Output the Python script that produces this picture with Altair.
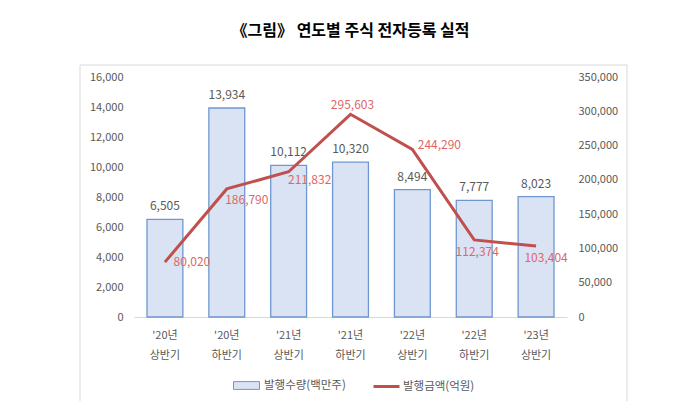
import altair as alt
import pandas as pd

categories = ["'20년 상반기", "'20년 하반기", "'21년 상반기", "'21년 하반기",
              "'22년 상반기", "'22년 하반기", "'23년 상반기"]
issue_volume = [6505, 13934, 10112, 10320, 8494, 7777, 8023]
issue_amount = [80020, 186790, 211832, 295603, 244290, 112374, 103404]
series_bar = "발행수량(백만주)"
series_line = "발행금액(억원)"
title_text = "《그림》 연도별 주식 전자등록 실적"

# label placement styles for the line's data labels (dx, dy)
line_label_offsets = [(27, 0), (20, 11), (21, 8), (2, -9), (27, -4), (3, 12), (10, 12)]

df = pd.DataFrame({
    "period": categories,
    "volume": issue_volume,
    "amount": issue_amount,
    "s1": series_bar,
    "s2": series_line,
})

FONT = "Noto Sans CJK KR"
GRAY = "#595959"

x_enc = alt.X(
    "period:N", sort=categories, title=None,
    scale=alt.Scale(paddingInner=0.42, paddingOuter=0.21),
    axis=alt.Axis(labelExpr="split(datum.label, ' ')", labelAngle=0, ticks=False,
                  domainColor="#D9D9D9", domainWidth=1, labelColor=GRAY, labelFontSize=11,
                  labelPadding=12, labelLineHeight=20, labelFont=FONT),
)

y_left = alt.Y(
    "volume:Q", title=None, scale=alt.Scale(domain=[0, 16000]),
    axis=alt.Axis(values=list(range(0, 16001, 2000)), format=",d", grid=False, domain=False,
                  ticks=False, labelColor=GRAY, labelFontSize=11, labelPadding=11, labelFont=FONT),
)
y_right = alt.Y(
    "amount:Q", title=None, scale=alt.Scale(domain=[0, 350000]),
    axis=alt.Axis(orient="right", values=list(range(0, 350001, 50000)), format=",d", grid=False,
                  domain=False, ticks=False, labelColor=GRAY, labelFontSize=11, labelPadding=11,
                  labelFont=FONT),
)

base = alt.Chart(df)

frame = alt.Chart(pd.DataFrame({"a": [0]})).mark_rect(filled=False, stroke="#D9D9D9", strokeWidth=1).encode(
    x=alt.value(-54), x2=alt.value(493), y=alt.value(-12), y2=alt.value(328)
)

bars = base.mark_bar(stroke="#6F97CF", strokeWidth=1.3).encode(
    x=x_enc, y=y_left,
    color=alt.Color("s1:N", scale=alt.Scale(range=["#DAE3F3"]),
                    legend=alt.Legend(orient="none", legendX=99, legendY=295, title=None,
                                      symbolType="M-1,-0.3H1V0.3H-1Z", symbolSize=676,
                                      symbolStrokeColor="#6F97CF", symbolStrokeWidth=1,
                                      labelFontSize=11.5, labelColor=GRAY, labelFont=FONT,
                                      labelOffset=4)),
)
bar_text = base.mark_text(baseline="bottom", dy=-6, color=GRAY, fontSize=12, font=FONT).encode(
    x=x_enc, y=y_left, text=alt.Text("volume:Q", format=",d")
)

line = base.mark_line(strokeWidth=3).encode(
    x=x_enc, y=y_right,
    stroke=alt.Stroke("s2:N", scale=alt.Scale(range=["#C0504D"]),
                      legend=alt.Legend(orient="none", legendX=238, legendY=295, title=None,
                                        symbolType="stroke", symbolSize=676, symbolStrokeWidth=3,
                                        labelFontSize=11.5, labelColor=GRAY, labelFont=FONT,
                                        labelOffset=2)),
)

line_texts = []
for cat, (dx, dy) in zip(categories, line_label_offsets):
    line_texts.append(
        base.transform_filter(alt.datum.period == cat)
        .mark_text(dx=dx, dy=dy, color="#E06666", fontSize=12, font=FONT)
        .encode(x=x_enc, y=y_right, text=alt.Text("amount:Q", format=",d"))
    )

left = alt.layer(bars, bar_text)
right = alt.layer(line, *line_texts)

chart = alt.layer(frame, left, right).resolve_scale(y="independent", color="independent").properties(
    width=433, height=240,
    title=alt.Title(title_text, fontSize=16, fontWeight="bold", font=FONT, color="black",
                    anchor="middle", offset=26),
    padding={"left": 126, "top": 69, "right": 125, "bottom": 84},
    autosize=alt.AutoSizeParams(type="none"),
).configure_view(stroke=None)

chart.save("out.html", embed_options={"renderer": "svg", "actions": False})
